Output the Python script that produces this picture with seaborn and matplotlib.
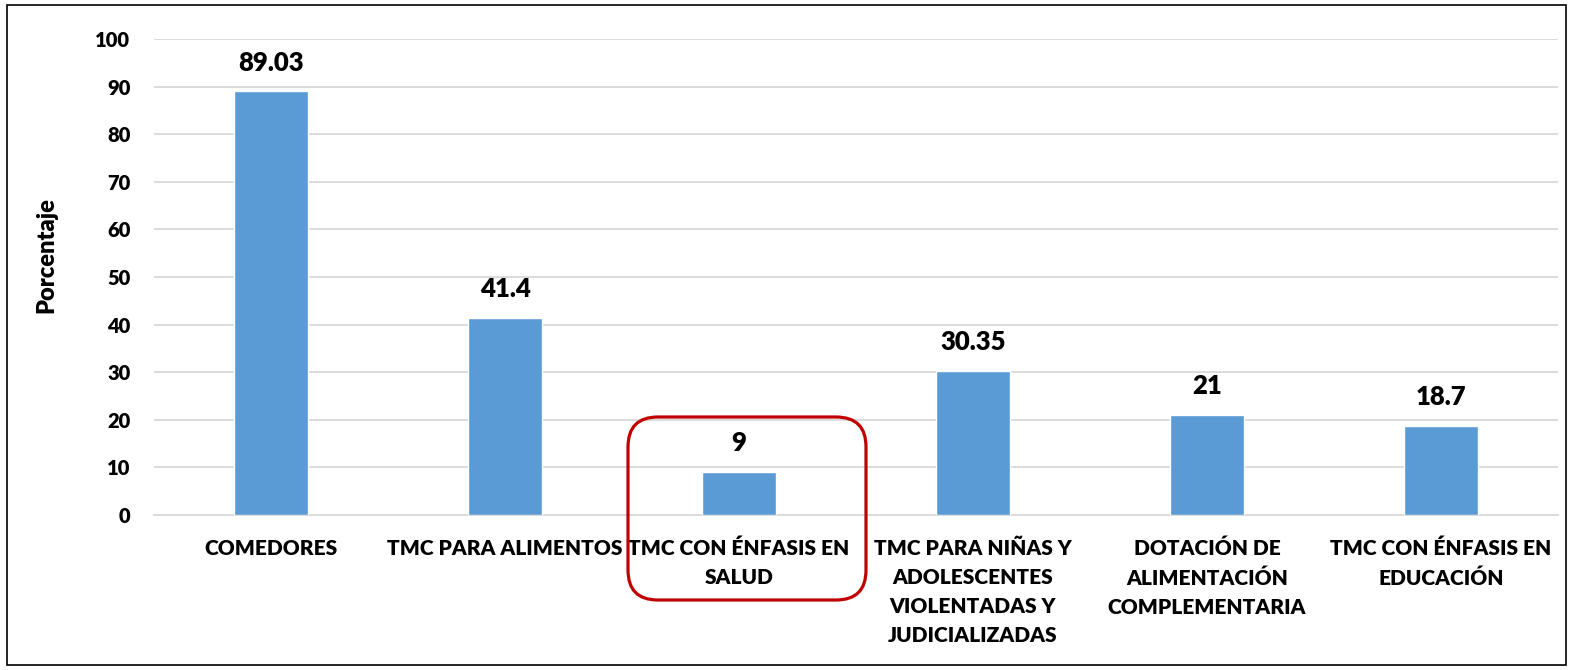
import matplotlib
matplotlib.use("Agg")
import matplotlib.pyplot as plt
import seaborn as sns
import pandas as pd
from matplotlib.patches import FancyBboxPatch, Rectangle

categories = [
    "COMEDORES",
    "TMC PARA ALIMENTOS",
    "TMC CON ÉNFASIS EN\nSALUD",
    "TMC PARA NIÑAS Y\nADOLESCENTES\nVIOLENTADAS Y\nJUDICIALIZADAS",
    "DOTACIÓN DE\nALIMENTACIÓN\nCOMPLEMENTARIA",
    "TMC CON ÉNFASIS EN\nEDUCACIÓN",
]
values = [89.03, 41.4, 9, 30.35, 21, 18.7]
value_labels = ["89.03", "41.4", "9", "30.35", "21", "18.7"]
y_ticks = [0, 10, 20, 30, 40, 50, 60, 70, 80, 90, 100]
highlight_index = 2

sns.set_theme(style="white")
plt.rcParams["font.family"] = ["Lato", "DejaVu Sans"]
WEIGHT = "heavy"

W, H = 1575, 670
fig = plt.figure(figsize=(W / 100, H / 100), dpi=100)
ax = fig.add_axes([154 / W, 1 - 515 / H, (1558 - 154) / W, (515 - 39) / H])

df = pd.DataFrame({"cat": categories, "val": values})
sns.barplot(data=df, x="cat", y="val", color="#5B9BD5", saturation=1,
            width=0.315, ax=ax, zorder=3)

ax.set_ylim(0, 100)
ax.set_xlim(-0.5, len(categories) - 0.5)
ax.set_yticks(y_ticks)
ax.set_yticklabels([str(t) for t in y_ticks], fontsize=14.5, fontweight=WEIGHT)
ax.yaxis.grid(True, color="#D9D9D9", linewidth=1.3, zorder=0)
ax.set_axisbelow(True)
for s in ["top", "right", "left"]:
    ax.spines[s].set_visible(False)
ax.spines["bottom"].set_color("#D9D9D9")
ax.spines["bottom"].set_linewidth(1.3)
ax.tick_params(axis="y", length=0, pad=17)
ax.tick_params(axis="x", length=0, pad=17)
ax.set_xticks(range(len(categories)))
ax.set_xticklabels(categories, fontsize=15, fontweight=WEIGHT, linespacing=1.63)
ax.set_xlabel("")
ax.set_ylabel("Porcentaje")
ax.yaxis.label.set_fontsize(17)
ax.yaxis.label.set_fontweight(WEIGHT)
ax.yaxis.label.set_color("black")
ax.yaxis.set_label_coords(-0.069, 0.546)
for lab in ax.get_xticklabels() + ax.get_yticklabels():
    lab.set_color("black")

for i, (v, t) in enumerate(zip(values, value_labels)):
    ax.annotate(t, (i, v), xytext=(0, 12), textcoords="offset points",
                ha="center", va="bottom", fontsize=18.5, fontweight=WEIGHT,
                color="black")

# highlight box around category
fig.canvas.draw()
cx, _ = ax.transData.transform((highlight_index, 0))
x0 = (cx - 111) / W
x1 = (cx + 127) / W
y_top = 1 - 417 / H
y_bot = 1 - 600 / H
box = FancyBboxPatch((x0, y_bot), x1 - x0, y_top - y_bot,
                     boxstyle="round,pad=0,rounding_size=0.019",
                     mutation_aspect=W / H, transform=fig.transFigure,
                     fill=False, edgecolor="#C00000", linewidth=2.3)
fig.add_artist(box)

# figure border
border = Rectangle((7 / W, 1 - 665 / H), (1566 - 7) / W, (665 - 5) / H,
                   transform=fig.transFigure, fill=False, edgecolor="black",
                   linewidth=1.2)
fig.add_artist(border)

fig.savefig("out.png", dpi=100, facecolor="white")
